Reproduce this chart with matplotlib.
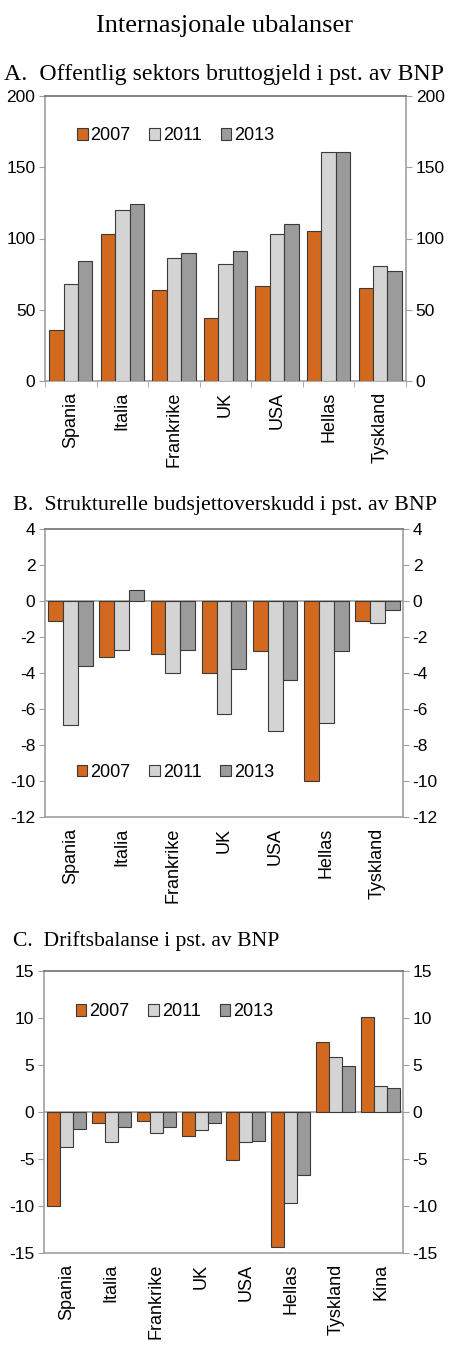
import numpy as np
import matplotlib
matplotlib.use("Agg")
import matplotlib.pyplot as plt

plt.rcParams['font.family'] = ['Liberation Sans', 'DejaVu Sans']

years = ["2007", "2011", "2013"]
colors = ["#d2691f", "#d4d4d4", "#9b9b9b"]

# A. Offentlig sektors bruttogjeld i pst. av BNP
land_a = ["Spania", "Italia", "Frankrike", "UK", "USA", "Hellas", "Tyskland"]
gjeld_2007 = [36, 103, 64, 44, 67, 105, 65]
gjeld_2011 = [68, 120, 86, 82, 103, 161, 81]
gjeld_2013 = [84, 124, 90, 91, 110, 161, 77]

# B. Strukturelle budsjettoverskudd i pst. av BNP
land_b = ["Spania", "Italia", "Frankrike", "UK", "USA", "Hellas", "Tyskland"]
budsj_2007 = [-1.1, -3.1, -2.95, -4.0, -2.8, -10.0, -1.1]
budsj_2011 = [-6.9, -2.7, -4.0, -6.3, -7.2, -6.8, -1.2]
budsj_2013 = [-3.6, 0.6, -2.7, -3.8, -4.4, -2.75, -0.5]

# C. Driftsbalanse i pst. av BNP
land_c = ["Spania", "Italia", "Frankrike", "UK", "USA", "Hellas", "Tyskland", "Kina"]
drift_2007 = [-10.0, -1.2, -1.0, -2.5, -5.1, -14.4, 7.4, 10.1]
drift_2011 = [-3.7, -3.2, -2.2, -1.9, -3.2, -9.7, 5.8, 2.75]
drift_2013 = [-1.8, -1.55, -1.55, -1.15, -3.1, -6.7, 4.85, 2.6]

W, H = 450, 1352
fig = plt.figure(figsize=(W / 100, H / 100), dpi=100)

serif = ['Liberation Serif', 'DejaVu Serif']
fig.text(0.5, 1 - 32 / H, "Internasjonale ubalanser", ha="center", va="baseline",
         family=serif, fontsize=19)
fig.text(4 / W, 1 - 80 / H, "A.  Offentlig sektors bruttogjeld i pst. av BNP",
         va="baseline", family=serif, fontsize=17.2)
fig.text(13 / W, 1 - 510 / H, "B.  Strukturelle budsjettoverskudd i pst. av BNP",
         va="baseline", family=serif, fontsize=15.8)
fig.text(13 / W, 1 - 946 / H, "C.  Driftsbalanse i pst. av BNP",
         va="baseline", family=serif, fontsize=15.6)

spine_col = "#a0a0a0"


def panel(rect, labels, series, ylim, yticks, bar_w, legend_y, zero_line):
    ax = fig.add_axes(rect)
    x = np.arange(len(labels))
    for i, (vals, c, yr) in enumerate(zip(series, colors, years)):
        ax.bar(x + (i - 1) * bar_w, vals, bar_w, color=c, edgecolor="#3a3a3a",
               linewidth=0.8, label=yr, zorder=3)
    ax.set_xlim(-0.5, len(labels) - 0.5)
    ax.set_ylim(*ylim)
    ax.set_yticks(yticks)
    ax.set_yticklabels([str(t) for t in yticks])
    ax.tick_params(axis="y", which="both", left=True, right=True,
                   labelleft=True, labelright=True, direction="out",
                   length=4, color=spine_col, labelsize=12.5, pad=3)
    ax.set_xticks(x)
    ax.set_xticklabels(labels, rotation=90, fontsize=13)
    ax.tick_params(axis="x", length=0, pad=8)
    # group separator ticks
    ax.set_xticks(np.arange(len(labels) + 1) - 0.5, minor=True)
    ax.tick_params(axis="x", which="minor", length=4 if not zero_line else 0,
                   color=spine_col, direction="out")
    for s in ["left", "right", "bottom"]:
        ax.spines[s].set_color(spine_col)
        ax.spines[s].set_linewidth(1.2)
    ax.spines["top"].set_color("#707070")
    ax.spines["top"].set_linewidth(1.2)
    if zero_line:
        ax.axhline(0, color=spine_col, linewidth=1.2, zorder=2)
    ax.legend(loc="center left", bbox_to_anchor=(0.068, legend_y), ncol=3,
              frameon=False, fontsize=13, handlelength=0.6, handleheight=0.6,
              handletextpad=0.15, columnspacing=1.05, borderaxespad=0)
    return ax


panel([45 / W, 1 - 381 / H, 361 / W, 285 / H], land_a,
      [gjeld_2007, gjeld_2011, gjeld_2013], (0, 200), [0, 50, 100, 150, 200],
      0.28, 0.86, False)
panel([45 / W, 1 - 817 / H, 358 / W, 288 / H], land_b,
      [budsj_2007, budsj_2011, budsj_2013], (-12, 4),
      [-12, -10, -8, -6, -4, -2, 0, 2, 4], 0.29, 0.155, True)
panel([44 / W, 1 - 1253 / H, 359 / W, 282 / H], land_c,
      [drift_2007, drift_2011, drift_2013], (-15, 15),
      [-15, -10, -5, 0, 5, 10, 15], 0.29, 0.855, True)

fig.savefig("out.png", dpi=100)
